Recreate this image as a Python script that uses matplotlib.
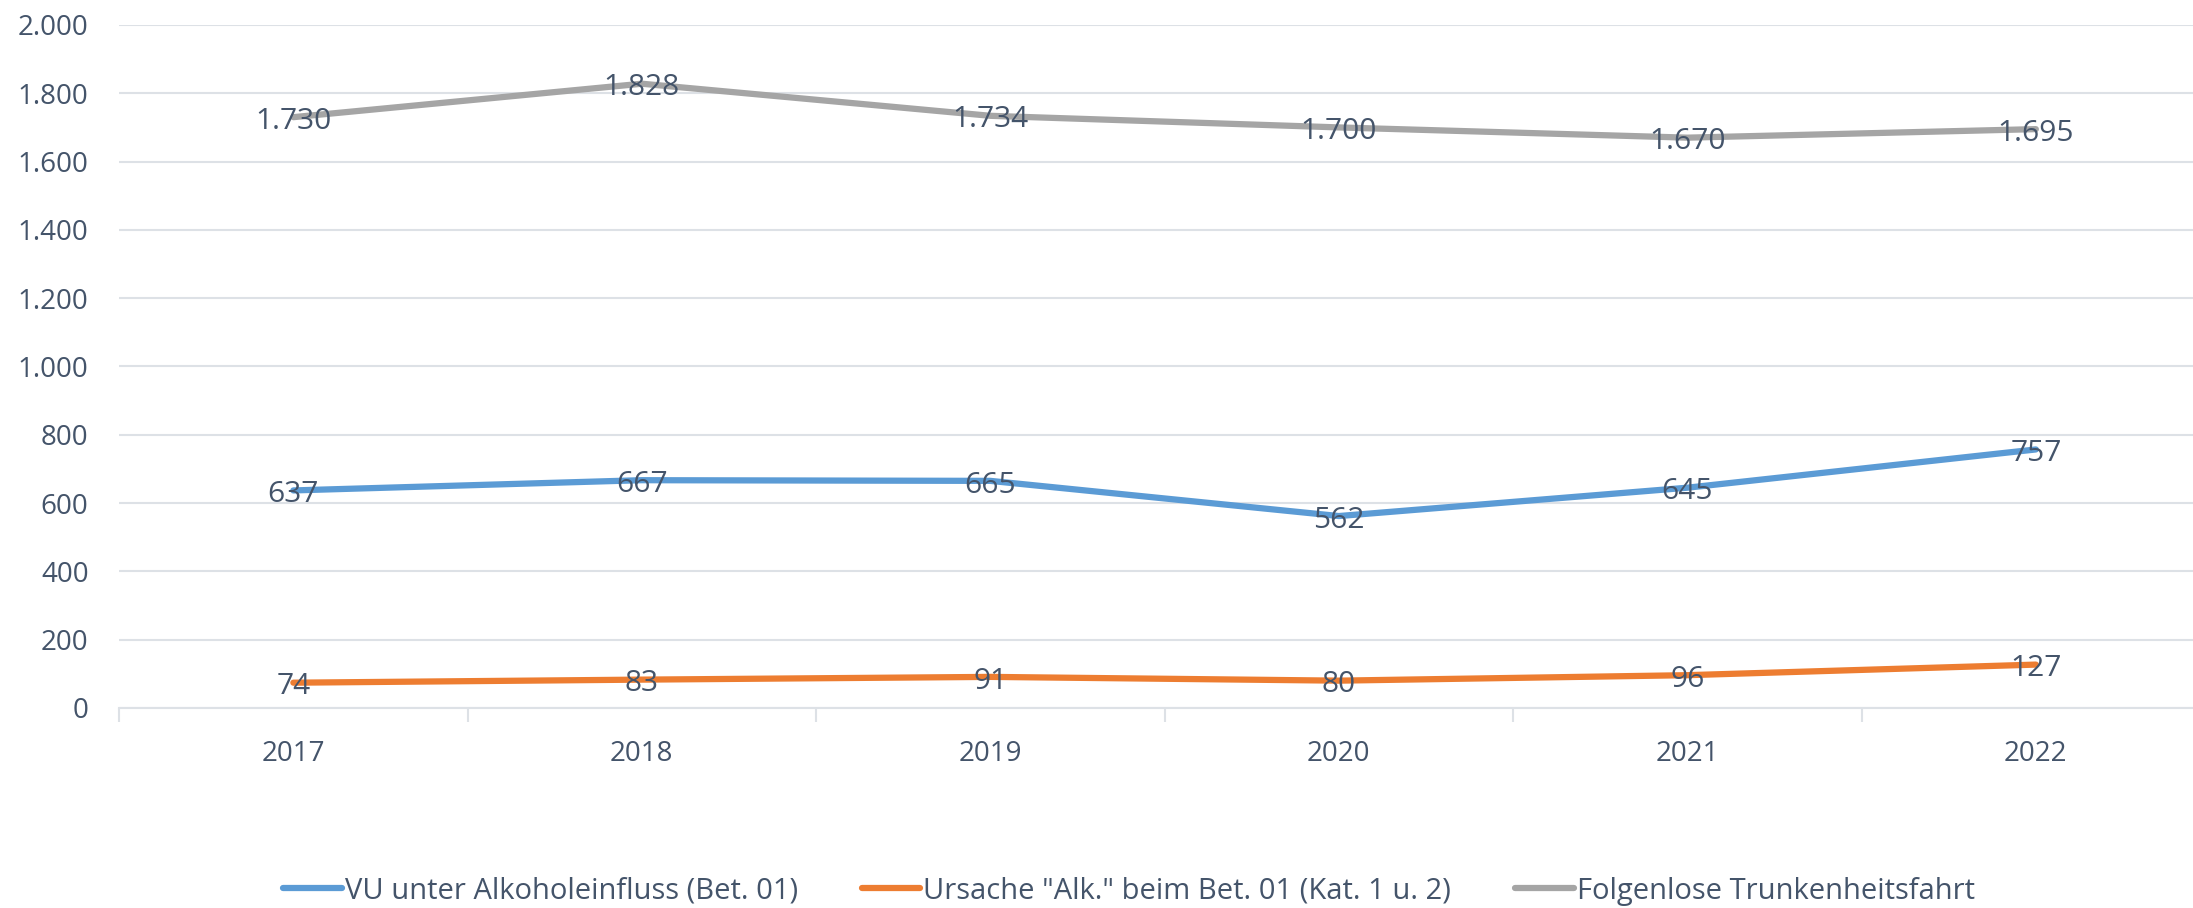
import matplotlib.pyplot as plt
import matplotlib.transforms as mtransforms
from matplotlib.ticker import FuncFormatter, FixedLocator

# Data
years = ["2017", "2018", "2019", "2020", "2021", "2022"]
vu_alkohol = [637, 667, 665, 562, 645, 757]
ursache_alk = [74, 83, 91, 80, 96, 127]
folgenlos = [1730, 1828, 1734, 1700, 1670, 1695]

labels = [
    "VU unter Alkoholeinfluss (Bet. 01)",
    'Ursache "Alk." beim Bet. 01 (Kat. 1 u. 2)',
    "Folgenlose Trunkenheitsfahrt",
]
colors = ["#5B9BD5", "#ED7D31", "#A5A5A5"]
text_color = "#44546A"
grid_color = "#DDE1E6"

plt.rcParams["font.family"] = ["Open Sans", "DejaVu Sans"]

fig = plt.figure(figsize=(21.93, 9.08), dpi=100)
ax = fig.add_axes([0.0543, 0.2203, 0.9535, 0.7522])

# labels sit a little below the point, like in the original
lbl_trans = ax.transData + mtransforms.ScaledTranslation(0, -3 / 72, fig.dpi_scale_trans)

x = list(range(len(years)))
handles = []
for series, col, lab in zip([vu_alkohol, ursache_alk, folgenlos], colors, labels):
    h, = ax.plot(x, series, color=col, lw=4.5, solid_capstyle="round",
                 solid_joinstyle="round", label=lab, zorder=3)
    handles.append(h)
    for xi, v in zip(x, series):
        ax.text(xi, v, f"{v:,}".replace(",", "."), ha="center", va="center",
                fontsize=21.5, color=text_color, zorder=4, transform=lbl_trans)

ax.set_xlim(-0.5, 5.5)
ax.set_ylim(0, 2000)
ax.set_yticks(range(0, 2001, 200))
ax.yaxis.set_major_formatter(FuncFormatter(lambda v, p: f"{int(v):,}".replace(",", ".")))
ax.set_xticks(x)
ax.set_xticklabels(years)
ax.xaxis.set_minor_locator(FixedLocator([i - 0.5 for i in range(len(years) + 1)]))

ax.grid(axis="y", color=grid_color, lw=1.5, zorder=0)
for s in ["top", "right", "left"]:
    ax.spines[s].set_visible(False)
ax.spines["bottom"].set_color(grid_color)
ax.spines["bottom"].set_linewidth(1.5)

ax.tick_params(axis="y", length=0, pad=22, labelsize=20, labelcolor=text_color)
ax.tick_params(axis="x", which="major", length=0, pad=23, labelsize=20, labelcolor=text_color)
ax.tick_params(axis="x", which="minor", length=10, width=1.5, color=grid_color)

fig.legend(handles=handles, loc="center", bbox_to_anchor=(1129 / 2193, 1 - 891 / 908),
           ncol=3, frameon=False, fontsize=21, labelcolor=text_color,
           handlelength=2.0, handletextpad=0.1, columnspacing=2.2)

fig.savefig("out.png", dpi=100)
